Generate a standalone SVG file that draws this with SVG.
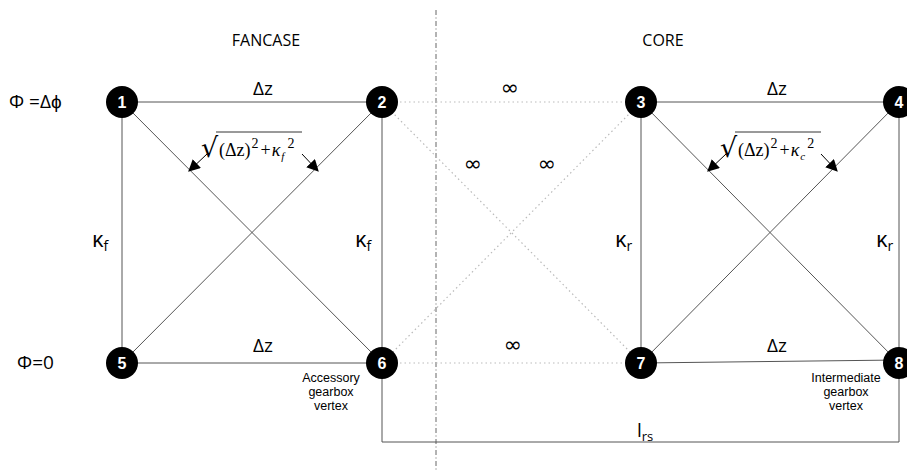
<svg xmlns="http://www.w3.org/2000/svg" width="907" height="471" viewBox="0 0 907 471">
<defs>
<style>
.e{stroke:#555;stroke-width:1;fill:none}
.d{stroke:#bbb;stroke-width:1.2;stroke-dasharray:1.5 3;fill:none}
.n circle{fill:#000}
.n text{fill:#fff;font-family:"Liberation Sans",Arial,sans-serif;font-weight:bold;font-size:16px;text-anchor:middle}
.l{font-family:"Open Sans","Liberation Sans",sans-serif;font-size:19px;fill:#000}
.k{font-family:"Open Sans","Liberation Sans",sans-serif;font-size:22px;fill:#000}
.i{font-family:"DejaVu Sans",sans-serif;font-size:22px;fill:#000;text-anchor:middle}
.t{font-family:"Liberation Sans",Arial,sans-serif;font-size:12.5px;fill:#000;text-anchor:middle}
.h{font-family:"Open Sans","Liberation Sans",sans-serif;font-size:16px;fill:#000;text-anchor:middle}
.m{font-family:"Liberation Serif","Times New Roman",serif;font-size:18px;fill:#000}
.r{font-family:"DejaVu Serif",serif;font-size:27px;fill:#000}
.a{stroke:#000;stroke-width:1;fill:none;marker-end:url(#ah)}
</style>
<marker id="ah" viewBox="0 0 10 10" refX="9" refY="5" markerWidth="12" markerHeight="12" markerUnits="userSpaceOnUse" orient="auto">
<path d="M0,0 L10,5 L0,10 z" fill="#000"/>
</marker>
</defs>
<rect width="907" height="471" fill="#fff"/>
<line x1="436" y1="10" x2="436" y2="471" stroke="#666" stroke-width="1" stroke-dasharray="5 2.5 1 2.5"/>
<g id="connectors">
<line class="e" x1="122" y1="102" x2="382" y2="102"/>
<line class="e" x1="122" y1="102" x2="122" y2="363"/>
<line class="e" x1="382" y1="102" x2="382" y2="363"/>
<line class="e" x1="122" y1="363" x2="382" y2="363"/>
<line class="e" x1="122" y1="102" x2="382" y2="363"/>
<line class="e" x1="382" y1="102" x2="122" y2="363"/>
<line class="e" x1="641" y1="102" x2="899" y2="102"/>
<line class="e" x1="641" y1="102" x2="641" y2="363"/>
<line class="e" x1="899" y1="102" x2="899" y2="363"/>
<line class="e" x1="641" y1="363" x2="899" y2="360"/>
<line class="e" x1="641" y1="102" x2="899" y2="363"/>
<line class="e" x1="899" y1="102" x2="641" y2="363"/>
<line class="d" x1="382" y1="102" x2="641" y2="102"/>
<line class="d" x1="382" y1="363" x2="641" y2="363"/>
<line class="d" x1="382" y1="102" x2="641" y2="363"/>
<line class="d" x1="641" y1="102" x2="382" y2="363"/>
<polyline class="e" points="382,363 382,442 899,442 899,363"/>
</g>
<g id="n1" class="n"><circle cx="122" cy="102" r="16"/><text x="122" y="108">1</text></g>
<g id="n2" class="n"><circle cx="382" cy="102" r="16"/><text x="382" y="108">2</text></g>
<g id="n3" class="n"><circle cx="641" cy="102" r="16"/><text x="641" y="108">3</text></g>
<g id="n4" class="n"><circle cx="899" cy="102" r="16"/><text x="899" y="108">4</text></g>
<g id="n5" class="n"><circle cx="122" cy="363" r="16"/><text x="122" y="369">5</text></g>
<g id="n6" class="n"><circle cx="382" cy="363" r="16"/><text x="382" y="369">6</text></g>
<g id="n7" class="n"><circle cx="641" cy="363" r="16"/><text x="641" y="369">7</text></g>
<g id="n8" class="n"><circle cx="899" cy="363" r="16"/><text x="899" y="369">8</text></g>
<g id="labels">
<text class="h" x="266" y="46">FANCASE</text>
<text class="h" x="663" y="46">CORE</text>
<text class="l" x="9" y="108">Φ =Δϕ</text>
<text class="l" x="17" y="369">Φ=0</text>
<text class="l" x="263" y="95" text-anchor="middle">Δz</text>
<text class="l" x="263" y="352" text-anchor="middle">Δz</text>
<text class="l" x="777" y="95" text-anchor="middle">Δz</text>
<text class="l" x="777" y="352" text-anchor="middle">Δz</text>
<text class="i" x="510" y="95">∞</text>
<text class="i" x="473" y="171">∞</text>
<text class="i" x="547" y="171">∞</text>
<text class="i" x="513" y="352">∞</text>
<text class="k" x="92" y="247">κ<tspan font-size="14" dy="4">f</tspan></text>
<text class="k" x="355" y="247">κ<tspan font-size="14" dy="4">f</tspan></text>
<text class="k" x="615" y="247">κ<tspan font-size="14" dy="4">r</tspan></text>
<text class="k" x="876" y="247">κ<tspan font-size="14" dy="4">r</tspan></text>
<text class="l" x="637" y="437" font-size="21">l<tspan font-size="13" dy="4">rs</tspan></text>
<text class="t" x="331" y="382">Accessory</text>
<text class="t" x="331" y="396">gearbox</text>
<text class="t" x="331" y="410">vertex</text>
<text class="t" x="846" y="382">Intermediate</text>
<text class="t" x="846" y="396">gearbox</text>
<text class="t" x="846" y="410">vertex</text>
</g>
<g id="formula-f">
<text class="r" x="201" y="157">√</text>
<line x1="216" y1="132" x2="302" y2="132" stroke="#000" stroke-width="0.8"/>
<text class="m" x="219" y="156">(Δz)<tspan font-size="14" dy="-8" dx="1">2</tspan><tspan dy="8" dx="2">+</tspan><tspan font-style="italic" dx="1">κ</tspan><tspan font-size="11" font-style="italic" dy="4" dx="1">f</tspan><tspan font-size="14" dy="-12" dx="3">2</tspan></text>
<line class="a" x1="207" y1="154" x2="189" y2="171"/>
<line class="a" x1="302" y1="154" x2="318" y2="171"/>
</g>
<g id="formula-c">
<text class="r" x="720" y="157">√</text>
<line x1="735" y1="132" x2="821" y2="132" stroke="#000" stroke-width="0.8"/>
<text class="m" x="738" y="156">(Δz)<tspan font-size="14" dy="-8" dx="1">2</tspan><tspan dy="8" dx="2">+</tspan><tspan font-style="italic" dx="1">κ</tspan><tspan font-size="11" font-style="italic" dy="4" dx="1">c</tspan><tspan font-size="14" dy="-12" dx="2">2</tspan></text>
<line class="a" x1="726" y1="154" x2="708" y2="171"/>
<line class="a" x1="821" y1="154" x2="837" y2="171"/>
</g>
</svg>
